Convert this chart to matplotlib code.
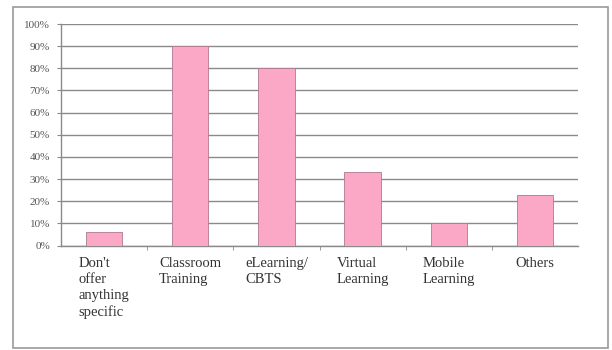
import matplotlib.pyplot as plt
from matplotlib.patches import Rectangle
from matplotlib.ticker import FixedLocator, PercentFormatter

# Survey results
categories = ["Don't\noffer\nanything\nspecific", "Classroom\nTraining", "eLearning/\nCBTS",
              "Virtual\nLearning", "Mobile\nLearning", "Others"]
shares = [6, 90, 80, 33, 10, 23]
y_ticks = list(range(0, 101, 10))

grid_c = '#8a8a8a'
bar_fc = '#fba7c6'
bar_ec = '#b07890'
text_c = '#333333'

plt.rcParams['font.family'] = ['Liberation Serif', 'DejaVu Serif']

fig = plt.figure(figsize=(6.12, 3.5), dpi=100)
fig.patch.set_facecolor('white')

# Outer chart border
fig.add_artist(Rectangle((12.5 / 612, 2 / 350), 595 / 612, 341 / 350, transform=fig.transFigure,
                         fill=False, ec='#9a9a9a', lw=1.2))

ax = fig.add_axes([61 / 612, 1 - 245.5 / 350, 517 / 612, 221.5 / 350])
x = range(len(categories))
ax.bar(x, shares, width=0.42, color=bar_fc, edgecolor=bar_ec, lw=0.6, zorder=3)

ax.set_xlim(-0.5, len(categories) - 0.5)
ax.set_ylim(0, 100)
ax.yaxis.set_major_locator(FixedLocator(y_ticks))
ax.yaxis.set_major_formatter(PercentFormatter(decimals=0))
ax.grid(axis='y', color=grid_c, lw=1.0, zorder=0)

for side in ['top', 'right']:
    ax.spines[side].set_visible(False)
ax.spines['left'].set_color(grid_c)
ax.spines['bottom'].set_color(grid_c)
ax.spines['left'].set_linewidth(1.0)
ax.spines['bottom'].set_linewidth(1.0)

ax.tick_params(axis='y', length=3, color=grid_c, labelsize=8, labelcolor='#555555', pad=5)

# Category labels below the axis, ticks at category boundaries
ax.set_xticks([i + 0.5 for i in range(len(categories) - 1)], minor=True)
ax.tick_params(axis='x', which='minor', length=3, color=grid_c)
ax.set_xticks(list(x))
ax.set_xticklabels(categories, fontsize=10.5, color=text_c, linespacing=1.3,
                   va='top', ma='left')
ax.tick_params(axis='x', which='major', length=0, pad=8)

fig.savefig('out.png', dpi=100)
